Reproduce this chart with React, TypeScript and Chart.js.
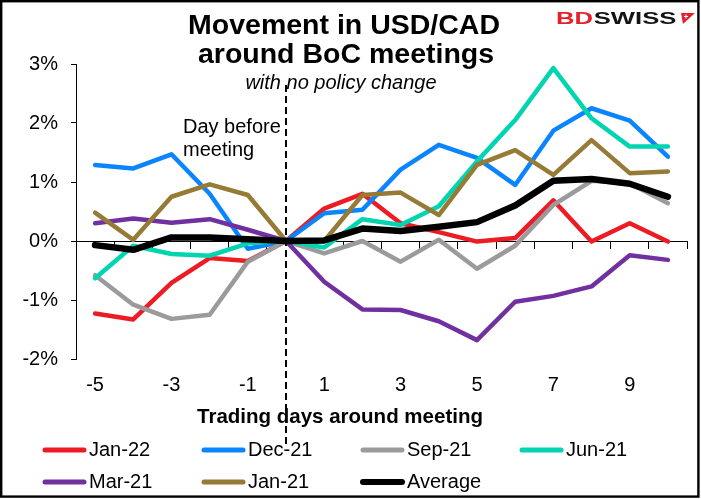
import React, { useEffect, useRef } from 'react';
import { Chart, registerables } from 'chart.js';

Chart.register(...registerables);

const FONT = "'Liberation Sans', Arial, Helvetica, sans-serif";

// ---- data ----
const days = ['-5', '-4', '-3', '-2', '-1', '0', '1', '2', '3', '4', '5', '6', '7', '8', '9', '10'];
const jan22 = [-1.23, -1.33, -0.71, -0.29, -0.34, 0, 0.55, 0.8, 0.3, 0.15, -0.01, 0.05, 0.69, -0.01, 0.3, -0.01];
const dec21 = [1.29, 1.23, 1.47, 0.8, -0.13, 0, 0.47, 0.53, 1.21, 1.63, 1.41, 0.95, 1.87, 2.25, 2.04, 1.43];
const sep21 = [-0.58, -1.08, -1.32, -1.25, -0.35, 0, -0.21, 0.0, -0.35, 0.02, -0.47, -0.08, 0.61, 1.02, 0.98, 0.64];
const jun21 = [-0.63, -0.08, -0.22, -0.25, -0.04, 0, -0.11, 0.37, 0.27, 0.59, 1.35, 2.05, 2.93, 2.08, 1.6, 1.6];
const mar21 = [0.3, 0.38, 0.31, 0.37, 0.19, 0, -0.69, -1.16, -1.17, -1.36, -1.68, -1.03, -0.93, -0.77, -0.24, -0.32];
const jan21 = [0.48, 0.02, 0.75, 0.96, 0.78, 0, 0.0, 0.78, 0.82, 0.44, 1.29, 1.54, 1.12, 1.71, 1.15, 1.18];
const average = [-0.07, -0.15, 0.06, 0.06, 0.03, 0, 0.01, 0.21, 0.17, 0.24, 0.32, 0.6, 1.02, 1.05, 0.97, 0.75];

const seriesNames = ['Jan-22', 'Dec-21', 'Sep-21', 'Jun-21', 'Mar-21', 'Jan-21', 'Average'];
const seriesValues = [jan22, dec21, sep21, jun21, mar21, jan21, average];
const seriesColors = ['#ED1C24', '#0A84FF', '#9B9B9D', '#00D4B0', '#7030A0', '#967B37', '#000000'];
const seriesWidths = [4.5, 4.5, 4.5, 4.5, 4.5, 4.5, 6.5];

const titleLines = ['Movement in USD/CAD', 'around BoC meetings'];
const subtitle = 'with no policy change';
const xTitle = 'Trading days around meeting';
const annotationLines = ['Day before', 'meeting'];
const meetingDay = '0';
const yMin = -2;
const yMax = 3;
const yStep = 1;

const overlayPlugin = {
  id: 'overlay',
  afterDraw(chart: any) {
    const ctx = chart.ctx as CanvasRenderingContext2D;
    const xs = chart.scales.x;
    ctx.save();

    // dashed meeting line
    const px = Math.round(xs.getPixelForValue(days.indexOf(meetingDay)));
    ctx.strokeStyle = '#000';
    ctx.lineWidth = 2;
    ctx.setLineDash([7, 4]);
    ctx.beginPath();
    ctx.moveTo(px, 85);
    ctx.lineTo(px, 447);
    ctx.stroke();
    ctx.setLineDash([]);

    // titles
    ctx.fillStyle = '#000';
    ctx.textAlign = 'center';
    ctx.textBaseline = 'alphabetic';
    ctx.font = `bold 28.5px ${FONT}`;
    ctx.fillText(titleLines[0], 344, 34);
    ctx.fillText(titleLines[1], 346, 63);
    ctx.font = `italic 20px ${FONT}`;
    ctx.fillText(subtitle, 341, 89);

    // annotation
    ctx.textAlign = 'left';
    ctx.font = `20px ${FONT}`;
    ctx.fillText(annotationLines[0], 183, 133);
    ctx.fillText(annotationLines[1], 183, 156);

    // x axis title
    ctx.textAlign = 'center';
    ctx.font = `bold 20.5px ${FONT}`;
    ctx.fillText(xTitle, 340, 423);

    // legend
    const cols = [42, 201, 360, 519];
    const rows = [450, 482];
    ctx.font = `20px ${FONT}`;
    ctx.textAlign = 'left';
    ctx.textBaseline = 'middle';
    ctx.lineCap = 'round';
    seriesNames.forEach((name, i) => {
      const cx = cols[i % 4];
      const cy = rows[Math.floor(i / 4)];
      ctx.strokeStyle = seriesColors[i];
      ctx.lineWidth = i === 6 ? 6 : 5;
      ctx.beginPath();
      ctx.moveTo(cx + 3, cy);
      ctx.lineTo(cx + 42, cy);
      ctx.stroke();
      ctx.fillStyle = '#000';
      ctx.fillText(name, cx + 47, cy);
    });

    // logo
    ctx.save();
    ctx.textBaseline = 'alphabetic';
    ctx.textAlign = 'left';
    ctx.font = `bold 16px ${FONT}`;
    ctx.translate(556, 24);
    ctx.scale(1.6, 1);
    ctx.fillStyle = '#E3212B';
    ctx.fillText('BD', 0, 0);
    const bw = ctx.measureText('BD').width;
    ctx.fillStyle = '#141414';
    ctx.fillText('SWISS', bw + 0.5, 0);
    ctx.restore();
    ctx.fillStyle = '#E3212B';
    ctx.beginPath();
    ctx.moveTo(681, 13);
    ctx.lineTo(695, 13);
    ctx.lineTo(683, 24);
    ctx.closePath();
    ctx.fill();
    ctx.strokeStyle = '#fff';
    ctx.lineWidth = 1;
    ctx.lineCap = 'butt';
    ctx.beginPath();
    ctx.moveTo(686, 14.5);
    ctx.lineTo(686, 18.5);
    ctx.moveTo(684, 16.5);
    ctx.lineTo(688, 16.5);
    ctx.stroke();

    // outer border
    ctx.strokeStyle = '#000';
    ctx.lineWidth = 2.4;
    ctx.strokeRect(1.2, 1.2, 697.2, 495.4);

    ctx.restore();
  },
};

export default function App() {
  const ref = useRef<HTMLCanvasElement | null>(null);

  useEffect(() => {
    if (!ref.current) return;
    const chart = new Chart(ref.current, {
      type: 'line',
      data: {
        labels: days,
        datasets: seriesNames.map((name, i) => ({
          label: name,
          data: seriesValues[i],
          borderColor: seriesColors[i],
          backgroundColor: seriesColors[i],
          borderWidth: seriesWidths[i],
          pointRadius: 0,
          pointHoverRadius: 0,
          tension: 0,
          fill: false,
          borderCapStyle: 'round',
          borderJoinStyle: 'round',
          order: seriesNames.length - 1 - i,
        })),
      },
      options: {
        responsive: false,
        animation: false,
        events: [],
        layout: { padding: { left: 0, right: 14, top: 64, bottom: 70 } },
        plugins: {
          legend: { display: false },
          tooltip: { enabled: false },
          title: { display: false },
        },
        scales: {
          x: {
            type: 'category',
            offset: true,
            grid: { display: false, drawTicks: false },
            border: { display: false },
            ticks: {
              autoSkip: false,
              maxRotation: 0,
              minRotation: 0,
              padding: 14,
              color: '#000',
              font: { family: FONT, size: 20 },
              callback: function (this: any, val: any, idx: number) {
                return idx % 2 === 0 ? days[idx] : '';
              },
            },
            afterFit: (s: any) => {
              s.height = 70;
            },
          },
          x2: {
            type: 'category',
            position: { y: 0 } as any,
            offset: true,
            grid: {
              display: true,
              drawOnChartArea: false,
              drawTicks: true,
              tickLength: 7,
              color: '#000',
              lineWidth: 1,
              offset: true,
            },
            border: { display: true, color: '#000', width: 1 },
            ticks: { display: false },
          },
          y: {
            min: yMin,
            max: yMax,
            grid: {
              drawOnChartArea: false,
              drawTicks: true,
              tickLength: 5,
              color: '#000',
              lineWidth: 1,
            },
            border: { display: true, color: '#000', width: 1 },
            ticks: {
              stepSize: yStep,
              padding: 13,
              color: '#000',
              font: { family: FONT, size: 20 },
              callback: (v: any) => `${v}%`,
            },
            afterFit: (s: any) => {
              s.width = 76;
            },
          },
        },
      },
      plugins: [overlayPlugin],
    });
    return () => chart.destroy();
  }, []);

  return (
    <div style={{ position: 'absolute', left: 0, top: 0, width: 701, height: 499, background: '#fff' }}>
      <canvas ref={ref} width={701} height={499} style={{ display: 'block', width: 701, height: 499 }} />
    </div>
  );
}
